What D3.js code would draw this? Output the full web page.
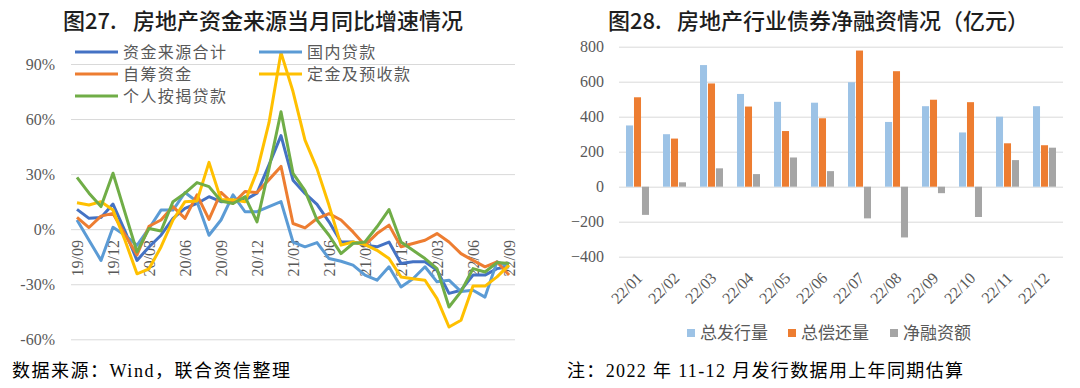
<!DOCTYPE html>
<html>
<head>
<meta charset="utf-8">
<script src="https://cdn.jsdelivr.net/npm/d3@7"></script>
<style>
  body { margin: 0; background: #fff; }
  svg { display: block; }
</style>
</head>
<body>
<div id="vis"></div>
<script>
// left chart: monthly YoY growth of real estate funding sources (%)
const months = ["19/09","19/10","19/11","19/12","20/01","20/02","20/03","20/04","20/05","20/06","20/07","20/08",
  "20/09","20/10","20/11","20/12","21/01","21/02","21/03","21/04","21/05","21/06","21/07","21/08",
  "21/09","21/10","21/11","21/12","22/01","22/02","22/03","22/04","22/05","22/06","22/07","22/08","22/09"];
const totalFunds = [10.8, 5.9, 6.4, 13.7, -1, -17, -9.7, -3.3, 5.9, 11.3, 14, 17.7, 15, 15.4, 16, 19.6, 35, 51,
  26.7, 19.5, 13.5, 4, -7, -7, -8.7, -9.6, -7, -18.7, -17.8, -17.8, -22.4, -35, -33.3, -25, -25, -21.5, -20.5];
const domesticLoans = [5, -6, -17, 1, -3.3, -8.8, 0.4, 10.4, 10.4, 20, 15, -3.3, 5, 18.7, 9.5, 9.5, 12.3, 15,
  -7, -9.6, -7.3, -16, -17.5, -19.6, -25, -27.8, -20.5, -31.5, -27, -20.5, -28.7, -27.8, -34, -33.3, -37, -17.8, -20.5];
const selfRaised = [6.4, 0.9, 7.1, 8.6, -3, -14, 1.6, 5, 12.3, 5.9, 18.7, 5.3, 20, 14, 20.5, 20, 27, 34.2,
  3.1, 0.7, 5.8, 8.5, 5, -1.5, -8.7, -2.4, 2.2, -9.6, -7.8, -6, -2.4, -7, -13.3, -17, -20.5, -17.8, -25];
const depositsAdvance = [14.4, 13.2, 15, 10.4, -6, -24.3, -21.6, -9.7, 5, 15, 15.4, 36.4, 16, 16, 15, 31.5, 58, 96.2,
  75, 48.5, 33, 13, -8.7, -7, -8.4, -11.5, -16, -26, -27, -27.8, -37.8, -53.3, -49.6, -31, -31, -26, -19.6];
const mortgage = [28.2, 19.6, 12.3, 30.5, 9, -12.4, 0.4, -1, 15, 19.6, 25.4, 23.2, 15.4, 14, 17.7, 4, 33, 64,
  30.4, 21, 5, -3.3, -13.3, -7.8, -7, 1.3, 10.7, -7, -11.5, -16, -21.5, -42.4, -34, -21.5, -23.3, -18.2, -18.7];
const lineNames = ["资金来源合计", "国内贷款", "自筹资金", "定金及预收款", "个人按揭贷款"];
const pctTicks = [-60, -30, 0, 30, 60, 90];

// right chart: real estate bond net financing (100 million yuan)
const bondMonths = ["22/01","22/02","22/03","22/04","22/05","22/06","22/07","22/08","22/09","22/10","22/11","22/12"];
const issuance = [350, 300, 695, 530, 485, 480, 597, 370, 460, 310, 400, 460];
const repayment = [511, 275, 590, 458, 318, 391, 778, 660, 497, 483, 248, 237];
const netFinancing = [-161, 25, 105, 72, 167, 89, -181, -290, -37, -173, 152, 223];
const barNames = ["总发行量", "总偿还量", "净融资额"];
const bondTicks = [-400, -200, 0, 200, 400, 600, 800];

const lineColors = ["#4472C4", "#5B9BD5", "#ED7D31", "#FFC000", "#70AD47"];
const barColors = ["#9DC3E6", "#ED7D31", "#A5A5A5"];
const numFont = "'Liberation Serif', 'Times New Roman', serif";
const cjkFont = "'Noto Sans CJK SC', sans-serif";
const noteFont = "'Liberation Serif', 'Noto Sans CJK SC', serif";

let svg = d3.select("#vis")
  .append("svg")
  .attr("width", 1080)
  .attr("height", 388);

// title helper: figure number + title text, placed separately
function title(numX, textX, num, txt) {
  let t = svg.append("text")
    .attr("y", 29)
    .attr("font-family", cjkFont)
    .attr("font-size", 22)
    .attr("font-weight", 500)
    .attr("fill", "#1e1e1e");
  t.append("tspan").attr("x", numX).text(num);
  t.append("tspan").attr("x", textX).text(txt);
}

// ---------- left: line chart ----------
let x = d3.scalePoint()
  .domain(months)
  .range([71, 515])
  .padding(0.5);

let y = d3.scaleLinear()
  .domain([-60, 90])
  .range([339.3, 64]);

title(63, 133, "图27.", "房地产资金来源当月同比增速情况");

let yAxis = svg.append("g")
  .attr("transform", "translate(71,0)")
  .call(d3.axisLeft(y).tickValues(pctTicks).tickSize(-444).tickPadding(16).tickFormat(d => d + "%"));
yAxis.select(".domain").remove();
yAxis.selectAll("line").attr("stroke", "#D9D9D9").attr("stroke-width", 1);
yAxis.selectAll("text")
  .attr("font-family", numFont)
  .attr("font-size", 16)
  .attr("fill", "#595959");

// category labels, every 3rd month, under the lines
svg.append("g")
  .selectAll("text")
  .data(months.filter((d, i) => i % 3 === 0))
  .join("text")
  .attr("transform", d => `translate(${x(d)},240) rotate(-90)`)
  .attr("text-anchor", "end")
  .attr("dy", "0.35em")
  .attr("font-family", numFont)
  .attr("font-size", 16)
  .attr("fill", "#595959")
  .text(d => d);

let lineSeries = [totalFunds, domesticLoans, selfRaised, depositsAdvance, mortgage];
let line = d3.line()
  .x((d, i) => x(months[i]))
  .y(d => y(d));

svg.append("g")
  .selectAll("path")
  .data(lineSeries)
  .join("path")
  .attr("d", line)
  .attr("fill", "none")
  .attr("stroke", (d, i) => lineColors[i])
  .attr("stroke-width", 3)
  .attr("stroke-linejoin", "round");

// legend
let legPos = [[75, 52], [259, 52], [75, 74], [259, 74], [75, 96]];
let leg = svg.append("g")
  .selectAll("g")
  .data(lineNames)
  .join("g")
  .attr("transform", (d, i) => `translate(${legPos[i][0]},${legPos[i][1]})`);
leg.append("line")
  .attr("x1", 0).attr("x2", 43)
  .attr("stroke", (d, i) => lineColors[i])
  .attr("stroke-width", 3);
leg.append("text")
  .attr("x", 48)
  .attr("dy", "0.36em")
  .attr("font-family", cjkFont)
  .attr("font-size", 16)
  .attr("letter-spacing", 1.4)
  .attr("fill", "#595959")
  .text(d => d);

svg.append("text")
  .attr("x", 12).attr("y", 377)
  .attr("font-family", noteFont)
  .attr("font-size", 18)
  .attr("textLength", 278)
  .attr("lengthAdjust", "spacing")
  .attr("fill", "#000")
  .text("数据来源：Wind，联合资信整理");

// ---------- right: grouped bars ----------
let xb = d3.scaleBand()
  .domain(bondMonths)
  .range([619, 1063]);

let bw = xb.bandwidth();
let xs = d3.scaleBand()
  .domain(barNames)
  .range([(bw - 23) / 2, (bw + 23) / 2])
  .paddingInner(0.12);

let yb = d3.scaleLinear()
  .domain([-400, 800])
  .range([256.7, 46.7]);

title(608, 677, "图28.", "房地产行业债券净融资情况（亿元）");

let ybAxis = svg.append("g")
  .attr("transform", "translate(619,0)")
  .call(d3.axisLeft(yb).tickValues(bondTicks).tickSize(-444).tickPadding(15));
ybAxis.select(".domain").remove();
ybAxis.selectAll("line").attr("stroke", "#D9D9D9").attr("stroke-width", 1);
ybAxis.selectAll("text")
  .attr("font-family", numFont)
  .attr("font-size", 16)
  .attr("fill", "#595959");

let barSeries = [issuance, repayment, netFinancing];
let groups = svg.append("g")
  .selectAll("g")
  .data(barSeries)
  .join("g")
  .attr("fill", (d, i) => barColors[i]);

groups.each(function (vals, si) {
  d3.select(this)
    .selectAll("rect")
    .data(vals)
    .join("rect")
    .attr("x", (d, i) => xb(bondMonths[i]) + xs(barNames[si]))
    .attr("width", xs.bandwidth())
    .attr("y", d => yb(Math.max(0, d)))
    .attr("height", d => Math.abs(yb(d) - yb(0)));
});

svg.append("g")
  .selectAll("text")
  .data(bondMonths)
  .join("text")
  .attr("transform", d => `translate(${xb(d) + bw / 2 + 2},275) rotate(-45)`)
  .attr("text-anchor", "end")
  .attr("dy", "0.35em")
  .attr("font-family", numFont)
  .attr("font-size", 16)
  .attr("fill", "#595959")
  .text(d => d);

let legX = [687, 788, 890];
let bleg = svg.append("g")
  .selectAll("g")
  .data(barNames)
  .join("g")
  .attr("transform", (d, i) => `translate(${legX[i]},333)`);
bleg.append("rect")
  .attr("x", 0).attr("y", -4)
  .attr("width", 8).attr("height", 8)
  .attr("fill", (d, i) => barColors[i]);
bleg.append("text")
  .attr("x", 13)
  .attr("dy", "0.36em")
  .attr("font-family", cjkFont)
  .attr("font-size", 17)
  .attr("fill", "#595959")
  .text(d => d);

svg.append("text")
  .attr("x", 567).attr("y", 377)
  .attr("font-family", noteFont)
  .attr("font-size", 18)
  .attr("textLength", 396)
  .attr("lengthAdjust", "spacing")
  .attr("fill", "#000")
  .text("注：2022 年 11-12 月发行数据用上年同期估算");
</script>
</body>
</html>
